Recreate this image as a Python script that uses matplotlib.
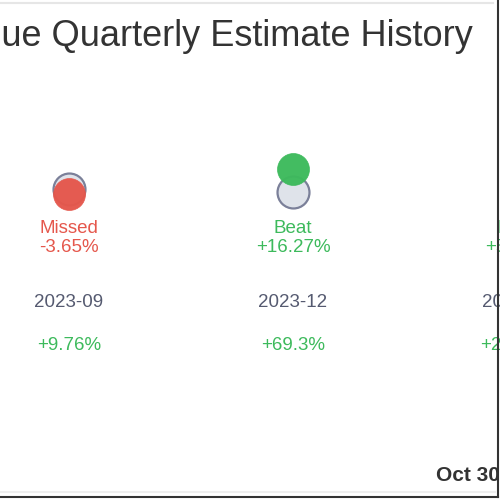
import matplotlib
matplotlib.use("Agg")
import matplotlib.pyplot as plt
from matplotlib.lines import Line2D

plt.rcParams['font.family'] = ['Liberation Sans', 'DejaVu Sans']

# Data (revenue in $B)
quarters = ["2023-09", "2023-12", "2024-03"]
estimates = [1.64, 1.60, 1.66]
actuals = [1.5801, 1.8603, 1.75]
results = ["Missed", "Beat", "Beat"]
surprise = ["-3.65%", "+16.27%", "+5.42%"]
yoy_growth = ["+9.76%", "+69.3%", "+21.45%"]
title = "Revenue Quarterly Estimate History"
date_label = "Oct 30, 2024"

RED = '#e5574c'
GREEN = '#3dba5c'
EST_FILL = '#dfe3ea'
EST_EDGE = '#7b8099'
DATE_GRAY = '#555a70'

fig = plt.figure(figsize=(5, 5), dpi=100)
ax = fig.add_axes([0, 0, 1, 1])
ax.set_xlim(-0.308, 1.924)
ax.set_ylim(-1.819, 3.737)
ax.axis('off')

xs = list(range(len(quarters)))
ax.plot(xs, estimates, linestyle='none', marker='o', markersize=23,
        markerfacecolor=EST_FILL, markeredgecolor=EST_EDGE,
        markeredgewidth=1.6, zorder=3)

for i, q in enumerate(quarters):
    col = GREEN if results[i] == "Beat" else RED
    ax.plot(i, actuals[i], marker='o', markersize=23, linestyle='none',
            markerfacecolor=col, markeredgecolor=col, markeredgewidth=0.5,
            alpha=0.97, zorder=4)
    tr = ax.get_xaxis_transform()
    ax.text(i, 0.543, results[i], color=col, fontsize=13.5,
            ha='center', va='center', transform=tr)
    ax.text(i, 0.505, surprise[i], color=col, fontsize=13.5,
            ha='center', va='center', transform=tr)
    ax.text(i, 0.395, q, color=DATE_GRAY, fontsize=13.5,
            ha='center', va='center', transform=tr)
    gcol = GREEN if yoy_growth[i].startswith('+') else RED
    ax.text(i, 0.309, yoy_growth[i], color=gcol, fontsize=13.5,
            ha='center', va='center', transform=tr)

# title (cropped on the left in the original)
fig.text(0.946, 0.928, title, fontsize=26, color='#333333',
         ha='right', va='center')
fig.text(0.872, 0.050, date_label, fontsize=15, fontweight='bold',
         color='#333333', ha='left', va='center')

# frame lines
fig.add_artist(Line2D([0, 0.986], [0.994, 0.994], color='#e6e6e6', lw=1.5))
fig.add_artist(Line2D([0, 0.99], [0.016, 0.016], color='#eeeeee', lw=1.5))
fig.add_artist(Line2D([0.995, 0.995], [0.006, 1], color='#333333', lw=1.5))
fig.add_artist(Line2D([0, 0.995], [0.006, 0.006], color='#333333', lw=1.5))

fig.savefig('out.png', dpi=100, facecolor='white')
